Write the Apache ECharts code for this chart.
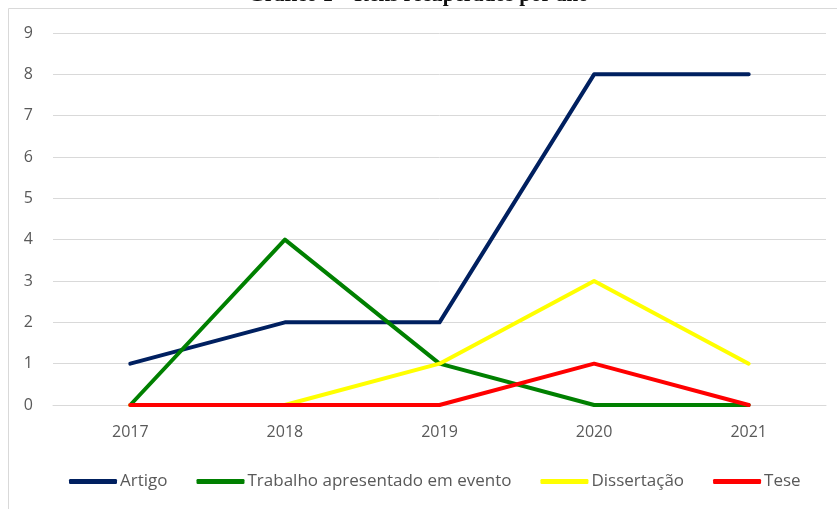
<!DOCTYPE html>
<html>
<head>
<meta charset="utf-8">
<script src="https://cdn.jsdelivr.net/npm/echarts@6/dist/echarts.min.js"></script>
<style>html,body{margin:0;padding:0;background:#fff}#c{width:837px;height:509px}</style>
</head>
<body>
<div id="c"></div>
<script>
const categories = ['2017', '2018', '2019', '2020', '2021'];
const artigo = [1, 2, 2, 8, 8];
const trabalho = [0, 4, 1, 0, 0];
const dissertacao = [0, 0, 1, 3, 1];
const tese = [0, 0, 0, 1, 0];
const yTicks = [0, 1, 2, 3, 4, 5, 6, 7, 8, 9];

const chart = echarts.init(document.getElementById('c'));
const font = 'Open Sans';
function mk(name, data, color) {
  return {
    name, type: 'line', data, symbol: 'none', smooth: false,
    lineStyle: { color, width: 4, cap: 'round', join: 'round' },
    itemStyle: { color }
  };
}
chart.setOption({
  animation: false,
  title: {
    text: 'Gráfico 1 – Itens recuperados por ano',
    left: 'center', top: -20,
    textStyle: { fontFamily: 'Liberation Serif', fontWeight: 'bold', fontSize: 21, color: '#111' }
  },
  graphic: [{
    type: 'rect', shape: { x: 8.5, y: 8.5, width: 840, height: 520 },
    style: { fill: 'none', stroke: '#d9d9d9', lineWidth: 1 }, silent: true, z: -1
  }],
  grid: { left: 53, right: 11, top: 33, bottom: 104 },
  xAxis: {
    type: 'category', data: categories, boundaryGap: true,
    axisLine: { lineStyle: { color: '#d9d9d9' } },
    axisTick: { show: false },
    axisLabel: { color: '#595959', fontFamily: font, fontSize: 16, margin: 19 }
  },
  yAxis: {
    type: 'value', min: yTicks[0], max: yTicks[yTicks.length - 1], interval: 1,
    axisLine: { show: false }, axisTick: { show: false },
    splitLine: { lineStyle: { color: '#d9d9d9', width: 1 } },
    axisLabel: { color: '#595959', fontFamily: font, fontSize: 16, margin: 20 }
  },
  legend: {
    bottom: 14, left: 64, itemWidth: 48, itemHeight: 5, itemGap: 29,
    icon: 'roundRect',
    textStyle: { color: '#595959', fontFamily: font, fontSize: 17, padding: [0, 0, 0, -2] },
    data: ['Artigo', 'Trabalho apresentado em evento', 'Dissertação', 'Tese']
  },
  series: [
    mk('Artigo', artigo, '#002060'),
    mk('Trabalho apresentado em evento', trabalho, '#008000'),
    mk('Dissertação', dissertacao, '#ffff00'),
    mk('Tese', tese, '#ff0000')
  ]
});
</script>
</body>
</html>
